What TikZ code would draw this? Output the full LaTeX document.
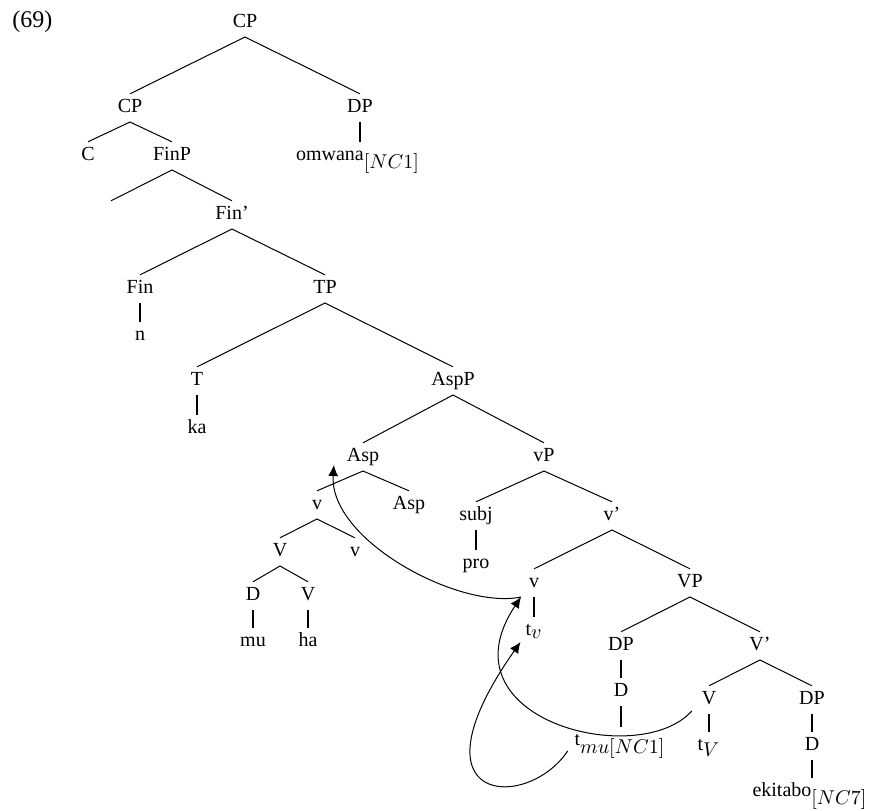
\documentclass[tikz,border=0pt]{standalone}
\usepackage{fontspec}
\setmainfont{Liberation Serif}
\usetikzlibrary{arrows.meta, positioning}

\begin{document}
\begin{tikzpicture}[
  x=0.5pt, y=-0.5pt,
  font=\fontsize{10}{12}\selectfont,
  cat/.style={
    anchor=base, inner xsep=1pt, inner ysep=2.5pt, outer sep=0pt,
    text height=6.6pt, text depth=2.5pt
  },
  branch/.style={draw, line width=0.5pt},
  unary/.style={draw, line width=1.3pt},
  move/.style={draw, line width=0.5pt, -{Latex[length=5.5pt, width=5pt]}}
]
\useasboundingbox (0,0) rectangle (869,810);

\node[anchor=base west, inner sep=0pt, font=\fontsize{12}{14}\selectfont] (exnum) at (12,27) {(69)};

\node[cat] (cpTop) at (245,27) {CP};
\node[cat] (cpLow) at (130,112) {CP};
\node[cat] (dpTop) at (360,112) {DP};
\node[cat] (c) at (88,160) {C};
\node[cat] (finP) at (172,160) {FinP};
\node[cat] (omwana) at (358,160) {omwana$_{\textstyle[NC1]}$};
\node[cat] (spec) at (111,219) {};
\node[cat] (finBar) at (232,219) {Fin'};
\node[cat] (fin) at (140,293) {Fin};
\node[cat] (tp) at (325,293) {TP};
\node[cat] (n) at (140,340) {n};
\node[cat] (t) at (197,385) {T};
\node[cat] (aspP) at (453,385) {AspP};
\node[cat] (ka) at (197,433) {ka};
\node[cat] (asp) at (363,461) {Asp};
\node[cat] (littleVP) at (544,461) {vP};
\node[cat] (vCpx) at (317,509) {v};
\node[cat] (aspHd) at (409,509) {Asp};
\node[cat] (subj) at (476,520) {subj};
\node[cat] (littleVBar) at (612,520) {v'};
\node[cat] (vRoot) at (280,556) {V};
\node[cat] (vAffix) at (355,556) {v};
\node[cat] (pro) at (476,568) {pro};
\node[cat] (dClitic) at (253,600) {D};
\node[cat] (vStem) at (308,600) {V};
\node[cat] (mu) at (253,646) {mu};
\node[cat] (ha) at (308,646) {ha};
\node[cat] (littleV) at (534,587) {v};
\node[cat] (bigVP) at (690,587) {VP};
\node[cat] (traceV) at (534,635) {t$_{\textstyle v}$};
\node[cat] (dpGoal) at (621,650) {DP};
\node[cat] (bigVBar) at (760,650) {V'};
\node[cat] (dGoal) at (621,696) {D};
\node[cat] (traceMu) at (620,745) {t$_{\textstyle mu[NC1]}$};
\node[cat] (bigV) at (709,704) {V};
\node[cat] (dpTheme) at (812,704) {DP};
\node[cat] (traceBigV) at (709,750) {t$_{\textstyle V}$};
\node[cat] (dTheme) at (812,750) {D};
\node[cat] (ekitabo) at (810,796) {ekitabo$_{\textstyle[NC7]}$};

\draw[branch] (cpLow.north) -- (cpTop.south) -- (dpTop.north);
\draw[branch] (c.north) -- (cpLow.south) -- (finP.north);
\draw[branch] (spec.north) -- (finP.south) -- (finBar.north);
\draw[branch] (fin.north) -- (finBar.south) -- (tp.north);
\draw[branch] (t.north) -- (tp.south) -- (aspP.north);
\draw[branch] (asp.north) -- (aspP.south) -- (littleVP.north);
\draw[branch] (vCpx.north) -- (asp.south) -- (aspHd.north);
\draw[branch] (subj.north) -- (littleVP.south) -- (littleVBar.north);
\draw[branch] (vRoot.north) -- (vCpx.south) -- (vAffix.north);
\draw[branch] (dClitic.north) -- (vRoot.south) -- (vStem.north);
\draw[branch] (littleV.north) -- (littleVBar.south) -- (bigVP.north);
\draw[branch] (dpGoal.north) -- (bigVP.south) -- (bigVBar.north);
\draw[branch] (bigV.north) -- (bigVBar.south) -- (dpTheme.north);

\draw[unary] (dpTop.south) -- (dpTop.south |- omwana.north);
\draw[unary] (fin.south) -- (n.north);
\draw[unary] (t.south) -- (ka.north);
\draw[unary] (subj.south) -- (pro.north);
\draw[unary] (dClitic.south) -- (mu.north);
\draw[unary] (vStem.south) -- (ha.north);
\draw[unary] (littleV.south) -- (traceV.north);
\draw[unary] (dpGoal.south) -- (dGoal.north);
\draw[unary] (dGoal.south) -- (dGoal.south |- traceMu.north);
\draw[unary] (bigV.south) -- (traceBigV.north);
\draw[unary] (dpTheme.south) -- (dTheme.north);
\draw[unary] (dTheme.south) -- (dTheme.south |- ekitabo.north);

\draw[move] ([xshift=-3pt]littleV.south west)
  .. controls +(-62,13) and +(-5,75) .. ([shift={(-5.5pt,3pt)}]asp.south west);
\draw[move] ([shift={(-4pt,1.5pt)}]bigV.south west)
  .. controls +(-53,59) and +(-82,123) .. ([xshift=-3pt]littleV.south west);
\draw[move] ([shift={(-2.5pt,2pt)}]traceMu.south west)
  .. controls +(-40,60) and +(-116,165) .. ([shift={(-1.5pt,1.5pt)}]traceV.south west);
\end{tikzpicture}
\end{document}
